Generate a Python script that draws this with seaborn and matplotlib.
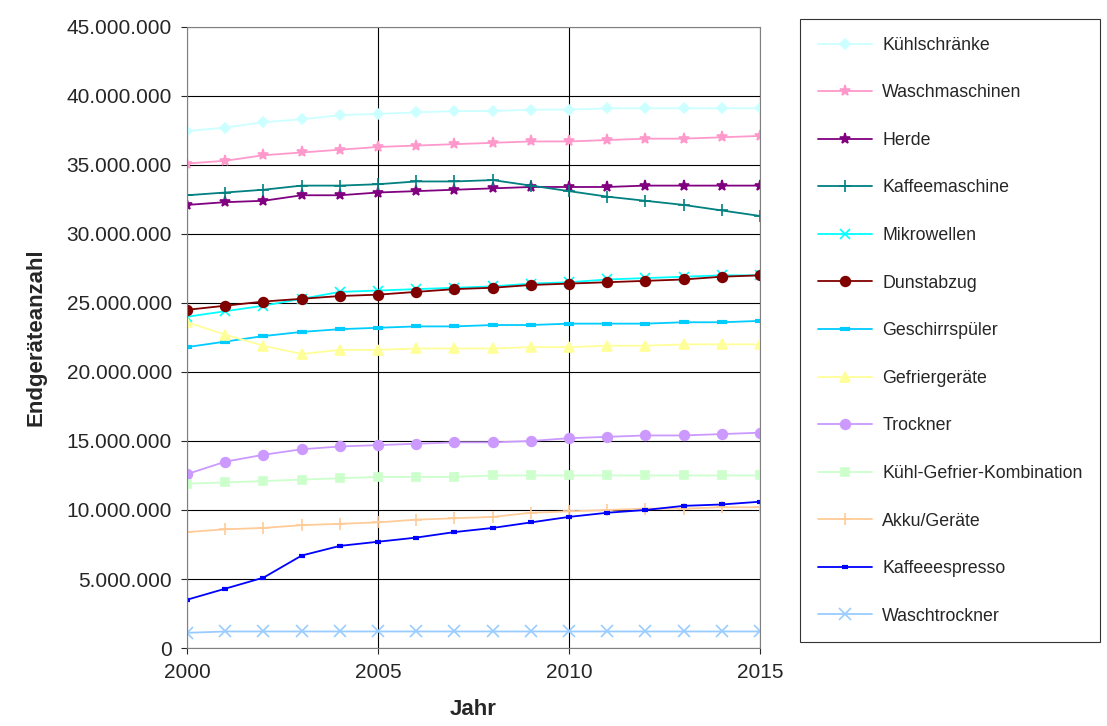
import numpy as np
import pandas as pd
import matplotlib
matplotlib.use("Agg")
import matplotlib.pyplot as plt
import seaborn as sns
from matplotlib.ticker import FuncFormatter

years = list(range(2000, 2016))

kuehlschraenke = [37.45, 37.7, 38.1, 38.3, 38.6, 38.7, 38.8, 38.9, 38.9, 39.0, 39.0, 39.1, 39.1, 39.1, 39.1, 39.1]
waschmaschinen = [35.1, 35.3, 35.7, 35.9, 36.1, 36.3, 36.4, 36.5, 36.6, 36.7, 36.7, 36.8, 36.9, 36.9, 37.0, 37.1]
herde = [32.1, 32.3, 32.4, 32.8, 32.8, 33.0, 33.1, 33.2, 33.3, 33.4, 33.4, 33.4, 33.5, 33.5, 33.5, 33.5]
kaffeemaschine = [32.8, 33.0, 33.2, 33.5, 33.5, 33.6, 33.8, 33.8, 33.9, 33.5, 33.1, 32.7, 32.4, 32.1, 31.7, 31.3]
mikrowellen = [24.0, 24.4, 24.8, 25.3, 25.8, 25.9, 26.0, 26.1, 26.2, 26.4, 26.5, 26.7, 26.8, 26.9, 27.0, 27.0]
dunstabzug = [24.5, 24.8, 25.1, 25.3, 25.5, 25.6, 25.8, 26.0, 26.1, 26.3, 26.4, 26.5, 26.6, 26.7, 26.9, 27.0]
geschirrspueler = [21.8, 22.2, 22.6, 22.9, 23.1, 23.2, 23.3, 23.3, 23.4, 23.4, 23.5, 23.5, 23.5, 23.6, 23.6, 23.7]
gefriergeraete = [23.6, 22.7, 21.9, 21.3, 21.6, 21.6, 21.7, 21.7, 21.7, 21.8, 21.8, 21.9, 21.9, 22.0, 22.0, 22.0]
trockner = [12.6, 13.5, 14.0, 14.4, 14.6, 14.7, 14.8, 14.9, 14.9, 15.0, 15.2, 15.3, 15.4, 15.4, 15.5, 15.6]
kuehl_gefrier = [11.9, 12.0, 12.1, 12.2, 12.3, 12.4, 12.4, 12.4, 12.5, 12.5, 12.5, 12.5, 12.5, 12.5, 12.5, 12.5]
akku = [8.4, 8.6, 8.7, 8.9, 9.0, 9.1, 9.3, 9.4, 9.5, 9.8, 9.9, 10.0, 10.1, 10.1, 10.2, 10.2]
kaffeeespresso = [3.5, 4.3, 5.1, 6.7, 7.4, 7.7, 8.0, 8.4, 8.7, 9.1, 9.5, 9.8, 10.0, 10.3, 10.4, 10.6]
waschtrockner = [1.1, 1.2, 1.2, 1.2, 1.2, 1.2, 1.2, 1.2, 1.2, 1.2, 1.2, 1.2, 1.2, 1.2, 1.2, 1.2]

series = [
    ("Kühlschränke", kuehlschraenke, "#ccffff", "D", 5),
    ("Waschmaschinen", waschmaschinen, "#ff99cc", "*", 8),
    ("Herde", herde, "#800080", "*", 8),
    ("Kaffeemaschine", kaffeemaschine, "#008080", "+", 8),
    ("Mikrowellen", mikrowellen, "#00ffff", "x", 7),
    ("Dunstabzug", dunstabzug, "#800000", "o", 7),
    ("Geschirrspüler", geschirrspueler, "#00ccff", "_", 7),
    ("Gefriergeräte", gefriergeraete, "#ffff99", "^", 7),
    ("Trockner", trockner, "#cc99ff", "o", 7),
    ("Kühl-Gefrier-Kombination", kuehl_gefrier, "#ccffcc", "s", 6),
    ("Akku/Geräte", akku, "#ffcc99", "+", 9),
    ("Kaffeeespresso", kaffeeespresso, "#0000ff", "_", 5),
    ("Waschtrockner", waschtrockner, "#99ccff", "x", 8),
]

sns.set_style("white")
plt.rcParams['font.family'] = ['Liberation Sans', 'DejaVu Sans']

fig = plt.figure(figsize=(11.07, 7.26), dpi=100)
ax = fig.add_axes([0.169, 0.1074, 0.5176, 0.8556])

for name, vals, color, marker, ms in series:
    df = pd.DataFrame({"Jahr": years, "Wert": np.array(vals) * 1e6})
    mew = 3 if marker == "_" else 1.2
    sns.lineplot(data=df, x="Jahr", y="Wert", ax=ax, color=color, marker=marker,
                 markersize=ms, markeredgecolor=color, markeredgewidth=mew,
                 linewidth=1.3, label=name)

ax.set_xlim(2000, 2015)
ax.set_ylim(0, 45e6)
ax.set_xticks([2000, 2005, 2010, 2015])
ax.set_yticks(np.arange(0, 45e6 + 1, 5e6))
ax.yaxis.set_major_formatter(FuncFormatter(lambda v, p: f"{int(v):,}".replace(",", ".")))
ax.grid(True, color="black", linewidth=0.8)
for s in ax.spines.values():
    s.set_color("gray")
ax.tick_params(labelsize=15, length=4, pad=7, direction="out", bottom=True, left=True)
ax.set_xlabel("Jahr", fontsize=16, fontweight="bold", labelpad=12)
ax.set_ylabel("Endgeräteanzahl", fontsize=16, fontweight="bold", labelpad=14)

leg = ax.legend(loc="upper left", bbox_to_anchor=(1.055, 1.027), fontsize=12.8,
                frameon=True, fancybox=False, edgecolor="black", labelspacing=1.72,
                borderpad=1.0, handlelength=3, handletextpad=0.6)
leg.get_frame().set_linewidth(0.8)

fig.savefig("out.png", dpi=100)
